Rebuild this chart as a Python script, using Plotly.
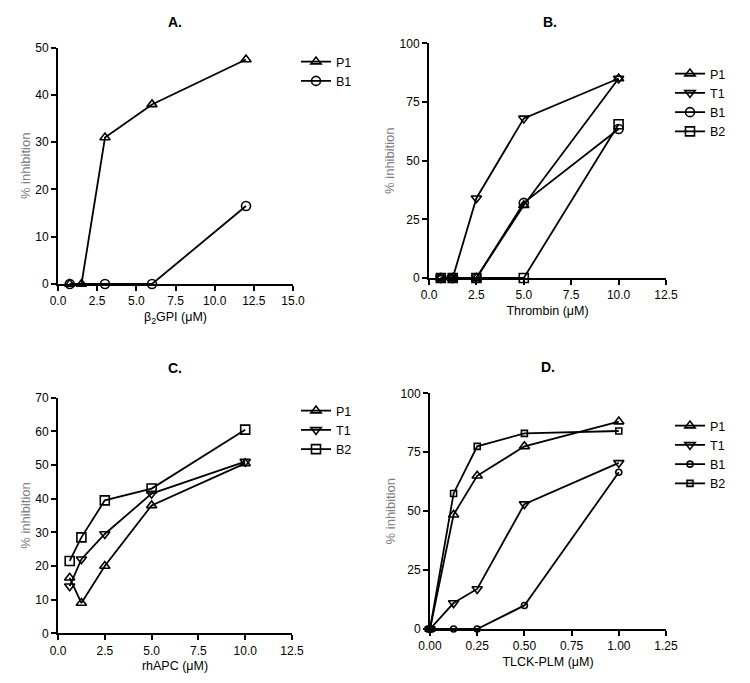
import plotly.graph_objects as go

# ---------------- data ----------------
# Panel A: beta2GPI
a_x = [0.75, 1.5, 3, 6, 12]
a_p1 = [0, 0, 31, 38, 47.5]
a_b1_x = [0.75, 3, 6, 12]
a_b1 = [0, 0, 0, 16.5]

# Panel B: Thrombin
b_x = [0.625, 1.25, 2.5, 5, 10]
b_p1 = [0, 0, 0, 31, 85]
b_t1 = [0, 0, 34, 68, 85]
b_b1 = [0, 0, 0, 32, 63.5]
b_b2 = [0, 0, 0, 0, 65.5]

# Panel C: rhAPC
c_x = [0.625, 1.25, 2.5, 5, 10]
c_p1 = [16.5, 9, 20, 38, 50.5]
c_t1 = [14, 22, 29.5, 41.5, 51]
c_b2 = [21.5, 28.5, 39.5, 43, 60.5]

# Panel D: TLCK-PLM
d_x = [0, 0.125, 0.25, 0.5, 1.0]
d_p1 = [0, 48.5, 65, 77.5, 88]
d_t1 = [0, 11, 17, 53, 70.5]
d_b1 = [0, 0, 0, 10, 66.5]
d_b2 = [0, 57.5, 77.5, 83, 84]

# page body has an 8px default margin; figure sized to fit the window
OFF = 8
W, H = 750 - 2 * OFF, 683 - 2 * OFF
FONT = "Liberation Sans, Arial, sans-serif"

def px_x(a, b):
    return [(a - OFF) / W, (b - OFF) / W]

def px_y(top, bottom):
    return [1 - (bottom - OFF) / H, 1 - (top - OFF) / H]

fig = go.Figure()

sym = {"P1": "triangle-up-open", "T1": "triangle-down-open",
       "B1": "circle-open", "B2": "square-open"}

def add(x, y, name, ax, leg, size=9):
    fig.add_trace(go.Scatter(
        x=x, y=y, name=name, mode="lines+markers",
        xaxis="x" + ax, yaxis="y" + ax, legend=leg,
        cliponaxis=False,
        line=dict(color="black", width=1.8),
        marker=dict(symbol=sym[name], size=size, color="black",
                    line=dict(color="black", width=1.6)),
    ))

add(a_x, a_p1, "P1", "", "legend")
add(a_b1_x, a_b1, "B1", "", "legend")

add(b_x, b_p1, "P1", "2", "legend2")
add(b_x, b_t1, "T1", "2", "legend2")
add(b_x, b_b1, "B1", "2", "legend2")
add(b_x, b_b2, "B2", "2", "legend2")

add(c_x, c_p1, "P1", "3", "legend3")
add(c_x, c_t1, "T1", "3", "legend3")
add(c_x, c_b2, "B2", "3", "legend3")

add(d_x, d_p1, "P1", "4", "legend4")
add(d_x, d_t1, "T1", "4", "legend4")
add(d_x, d_b1, "B1", "4", "legend4", size=6)
add(d_x, d_b2, "B2", "4", "legend4", size=6)

def xaxis(domain, rng, dtick, fmt, title, anchor):
    return dict(domain=domain, range=rng, dtick=dtick, tick0=0, tickformat=fmt,
                showline=True, linecolor="black", linewidth=2,
                ticks="outside", ticklen=5, tickwidth=1.5, tickcolor="black",
                showgrid=False, zeroline=False, anchor=anchor, automargin=False,
                tickfont=dict(size=12, color="black", family=FONT),
                title=dict(text=title, font=dict(size=12.5, color="black", family=FONT), standoff=5))

def yaxis(domain, rng, dtick, anchor):
    return dict(domain=domain, range=rng, dtick=dtick, tick0=0,
                showline=True, linecolor="black", linewidth=2,
                ticks="outside", ticklen=5, tickwidth=1.5, tickcolor="black",
                showgrid=False, zeroline=False, anchor=anchor, automargin=False,
                tickfont=dict(size=12, color="black", family=FONT),
                title=dict(text="% inhibition", font=dict(size=13, color="#808080", family=FONT), standoff=2))

def legend(xpx, ytop):
    return dict(x=(xpx - OFF) / W, y=1 - (ytop - OFF) / H, xanchor="left", yanchor="top",
                bgcolor="rgba(0,0,0,0)", font=dict(size=12.5, color="black", family=FONT),
                tracegroupgap=0, itemclick=False)

fig.update_layout(
    width=W, height=H,
    margin=dict(l=0, r=0, t=0, b=0, autoexpand=False),
    paper_bgcolor="white", plot_bgcolor="white",
    font=dict(family=FONT, color="black"),
    showlegend=True,
    xaxis=xaxis(px_x(58, 293), [0, 15], 2.5, ".1f", "β<sub>2</sub>GPI (μM)", "y"),
    yaxis=yaxis(px_y(47.7, 284), [0, 50], 10, "x"),
    xaxis2=xaxis(px_x(429, 666), [0, 12.5], 2.5, ".1f", "Thrombin (μM)", "y2"),
    yaxis2=yaxis(px_y(43.3, 278), [0, 100], 25, "x2"),
    xaxis3=xaxis(px_x(58, 292), [0, 12.5], 2.5, ".1f", "rhAPC (μM)", "y3"),
    yaxis3=yaxis(px_y(397.7, 633.3), [0, 70], 10, "x3"),
    xaxis4=xaxis(px_x(430, 666), [0, 1.25], 0.25, ".2f", "TLCK-PLM (μM)", "y4"),
    yaxis4=yaxis(px_y(393.3, 629), [0, 100], 25, "x4"),
    legend=legend(296, 47),
    legend2=legend(670, 59),
    legend3=legend(296, 396),
    legend4=legend(670, 411),
)

titles = [("A.", 175, 22), ("B.", 550, 22), ("C.", 175, 368), ("D.", 548, 367)]
for t, x, y in titles:
    fig.add_annotation(text="<b>%s</b>" % t, x=(x - OFF) / W, y=1 - (y - OFF) / H,
                       xref="paper", yref="paper",
                       showarrow=False, font=dict(size=14, color="black", family=FONT),
                       xanchor="center", yanchor="middle")

fig.write_html("out.html")
